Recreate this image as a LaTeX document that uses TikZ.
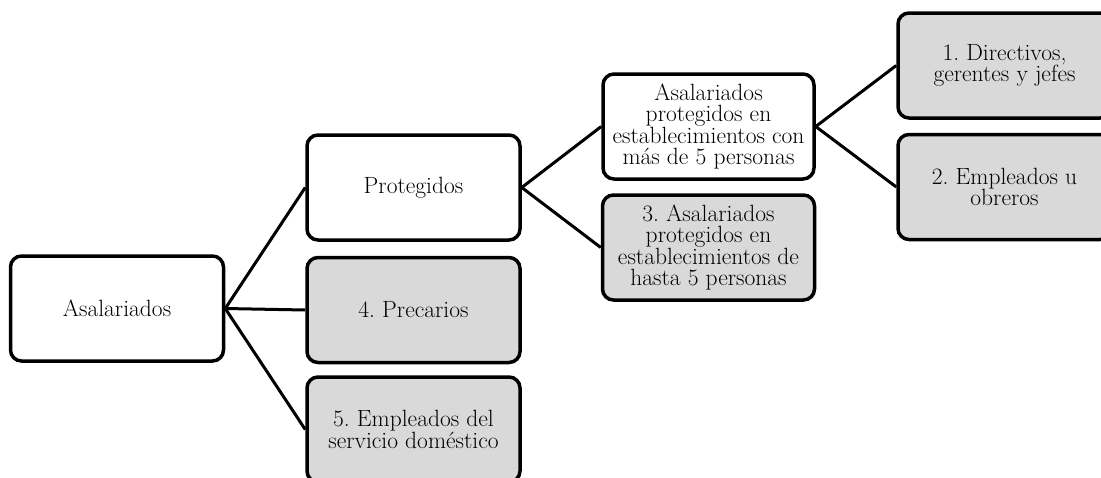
\documentclass[tikz,border=0pt]{standalone}
\usepackage{fontspec}
\frenchspacing
\usetikzlibrary{positioning}
\definecolor{boxgray}{HTML}{D9D9D9}
\tikzset{
  box/.style={draw=black, line width=3.5pt, rounded corners=11pt, fill=white,
    minimum width=213pt, minimum height=105pt, align=center, inner sep=2pt,
    font=\fontsize{23.5}{21.5}\selectfont\frenchspacing},
  graybox/.style={box, fill=boxgray},
  conn/.style={draw=black, line width=3pt}
}
\begin{document}
\begin{tikzpicture}[x=1pt,y=-1pt]
\useasboundingbox (0,0) rectangle (1101,477);
\clip (0,0) rectangle (1101,477);
\node[box] (asal) at (117,308.5) {Asalariados};
\node[box] (prot) at (413.5,187.5) {Protegidos};
\node[graybox] (prec) at (413.5,310) {4. Precarios};
\node[graybox] (serv) at (413.5,429.5) {5. Empleados del\\servicio doméstico};
\node[box, minimum width=211pt] (ap) at (708.5,126.5) {Asalariados\\protegidos en\\establecimientos con\\más de 5 personas};
\node[graybox, minimum width=212pt] (hasta) at (708.5,247.5) {3. Asalariados\\protegidos en\\establecimientos de\\hasta 5 personas};
\node[graybox] (dir) at (1004.5,65.5) {1. Directivos,\\gerentes y jefes};
\node[graybox] (emp) at (1004.5,187) {2. Empleados u\\obreros};
\draw[conn] (asal.east) -- (prot.west);
\draw[conn] (asal.east) -- (prec.west);
\draw[conn] (asal.east) -- (serv.west);
\draw[conn] (prot.east) -- (ap.west);
\draw[conn] (prot.east) -- (hasta.west);
\draw[conn] (ap.east) -- (dir.west);
\draw[conn] (ap.east) -- (emp.west);
\end{tikzpicture}
\end{document}
